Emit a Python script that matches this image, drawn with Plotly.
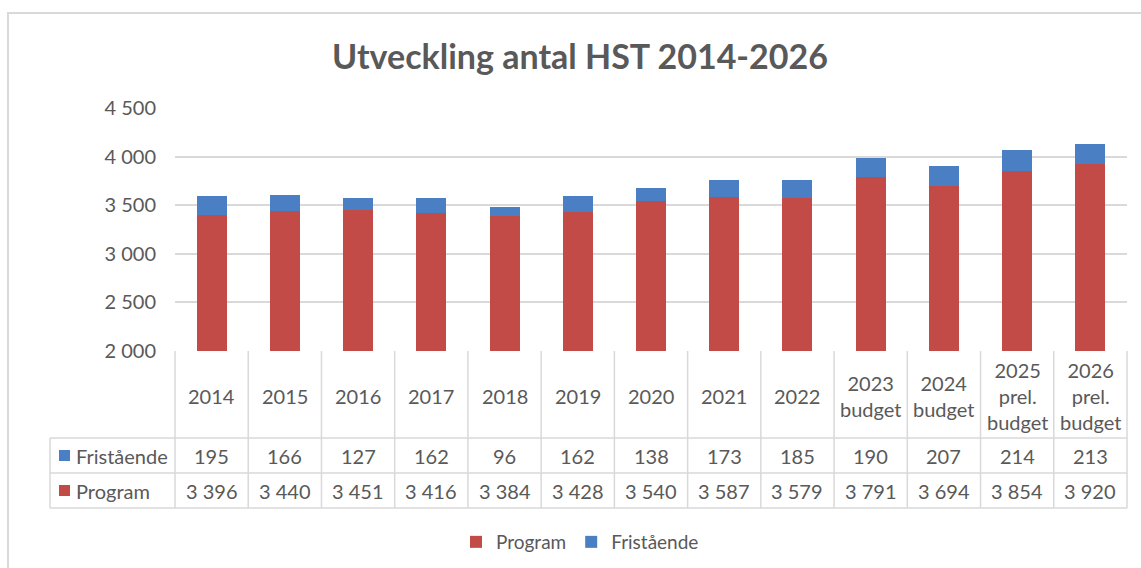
import plotly.graph_objects as go

categories = ["2014", "2015", "2016", "2017", "2018", "2019", "2020", "2021", "2022",
              "2023<br>budget", "2024<br>budget", "2025<br>prel.<br>budget", "2026<br>prel.<br>budget"]
program = [3396, 3440, 3451, 3416, 3384, 3428, 3540, 3587, 3579, 3791, 3694, 3854, 3920]
fristaende = [195, 166, 127, 162, 96, 162, 138, 173, 185, 190, 207, 214, 213]
y_tickvals = [2000, 2500, 3000, 3500, 4000, 4500]
y_ticktext = ["2 000", "2 500", "3 000", "3 500", "4 000", "4 500"]


def fmt(v):
    return f"{v:,}".replace(",", " ")


W, H = 1141, 568
L, R, T, B = 175, 1127, 108, 351   # plot area in pixels
PW, PH = R - L, B - T
N = len(categories)

def px(x):
    return (x - L) / PW

def py(y):
    return (B - y) / PH

RED = "#c24b47"
BLUE = "#4a7fc3"
GRID = "#d9d9d9"
TXT = "#595959"
FONT = "Lato, 'Open Sans', sans-serif"
FS = 20

fig = go.Figure()
fig.add_trace(go.Bar(x=list(range(N)), y=program, name="Program",
                     marker=dict(color=RED, line=dict(width=0))))
fig.add_trace(go.Bar(x=list(range(N)), y=fristaende, name="Fristående",
                     marker=dict(color=BLUE, line=dict(width=0))))

shapes = []
# outer chart border
shapes.append(dict(type="rect", xref="paper", yref="paper",
                   x0=px(8), x1=px(W + 10), y0=py(13), y1=py(H + 10),
                   line=dict(color=GRID, width=2), layer="below"))

# table lines
row_top, row1, row2, row_bot = 351, 438, 473, 508
col_edges = [i / N for i in range(N + 1)]
for ce in col_edges:
    shapes.append(dict(type="line", xref="paper", yref="paper",
                       x0=ce, x1=ce, y0=py(row_top), y1=py(row_bot),
                       line=dict(color=GRID, width=1.5)))
for ry in (row1, row2, row_bot):
    shapes.append(dict(type="line", xref="paper", yref="paper",
                       x0=px(50), x1=1, y0=py(ry), y1=py(ry),
                       line=dict(color=GRID, width=1.5)))
shapes.append(dict(type="line", xref="paper", yref="paper",
                   x0=px(50), x1=px(50), y0=py(row1), y1=py(row_bot),
                   line=dict(color=GRID, width=1.5)))
# legend keys in table
for color, ry in ((BLUE, (row1 + row2) / 2), (RED, (row2 + row_bot) / 2)):
    shapes.append(dict(type="rect", xref="paper", yref="paper",
                       x0=px(59), x1=px(70), y0=py(ry - 5.5), y1=py(ry + 5.5),
                       fillcolor=color, line=dict(width=0)))

annotations = []
for i, cat in enumerate(categories):
    xc = (i + 0.5) / N
    annotations.append(dict(text=cat, x=xc, y=py((row_top + row1) / 2 + 1),
                            xref="paper", yref="paper", showarrow=False,
                            xanchor="center", yanchor="middle",
                            font=dict(size=FS, color=TXT, family=FONT)))
    annotations.append(dict(text=fmt(fristaende[i]), x=xc, y=py((row1 + row2) / 2),
                            xref="paper", yref="paper", showarrow=False,
                            xanchor="center", yanchor="middle",
                            font=dict(size=FS, color=TXT, family=FONT)))
    annotations.append(dict(text=fmt(program[i]), x=xc, y=py((row2 + row_bot) / 2),
                            xref="paper", yref="paper", showarrow=False,
                            xanchor="center", yanchor="middle",
                            font=dict(size=FS, color=TXT, family=FONT)))
for label, ry in (("Fristående", (row1 + row2) / 2), ("Program", (row2 + row_bot) / 2)):
    annotations.append(dict(text=label, x=px(74), y=py(ry), xref="paper", yref="paper",
                            showarrow=False, xanchor="left", yanchor="middle",
                            font=dict(size=FS, color=TXT, family=FONT)))

fig.update_layout(
    width=W, height=H,
    margin=dict(l=L, r=W - R, t=T, b=H - B, pad=0, autoexpand=False),
    paper_bgcolor="white", plot_bgcolor="white",
    barmode="stack", bargap=0.59,
    title=dict(text="<b>Utveckling antal HST 2014-2026</b>",
               x=580 / W, xanchor="center", y=1 - 57 / H, yanchor="middle",
               font=dict(size=34, color=TXT, family=FONT)),
    xaxis=dict(range=[-0.5, N - 0.5], showticklabels=False, showgrid=False,
               zeroline=False, showline=False, fixedrange=True),
    yaxis=dict(range=[2000, 4500], tickvals=y_tickvals, ticktext=y_ticktext,
               showgrid=True, gridcolor=GRID, gridwidth=1.5, zeroline=False,
               showline=False, ticklabelstandoff=18, automargin=False,
               tickfont=dict(size=FS, color=TXT, family=FONT)),
    legend=dict(orientation="h", x=px(580), xanchor="center", y=py(542),
                yanchor="middle", traceorder="normal",
                font=dict(size=19, color=TXT, family=FONT)),
    shapes=shapes, annotations=annotations,
)

fig.write_html("out.html", config={"displayModeBar": False},
               post_script="document.body.style.margin='0';document.body.style.padding='0';")
